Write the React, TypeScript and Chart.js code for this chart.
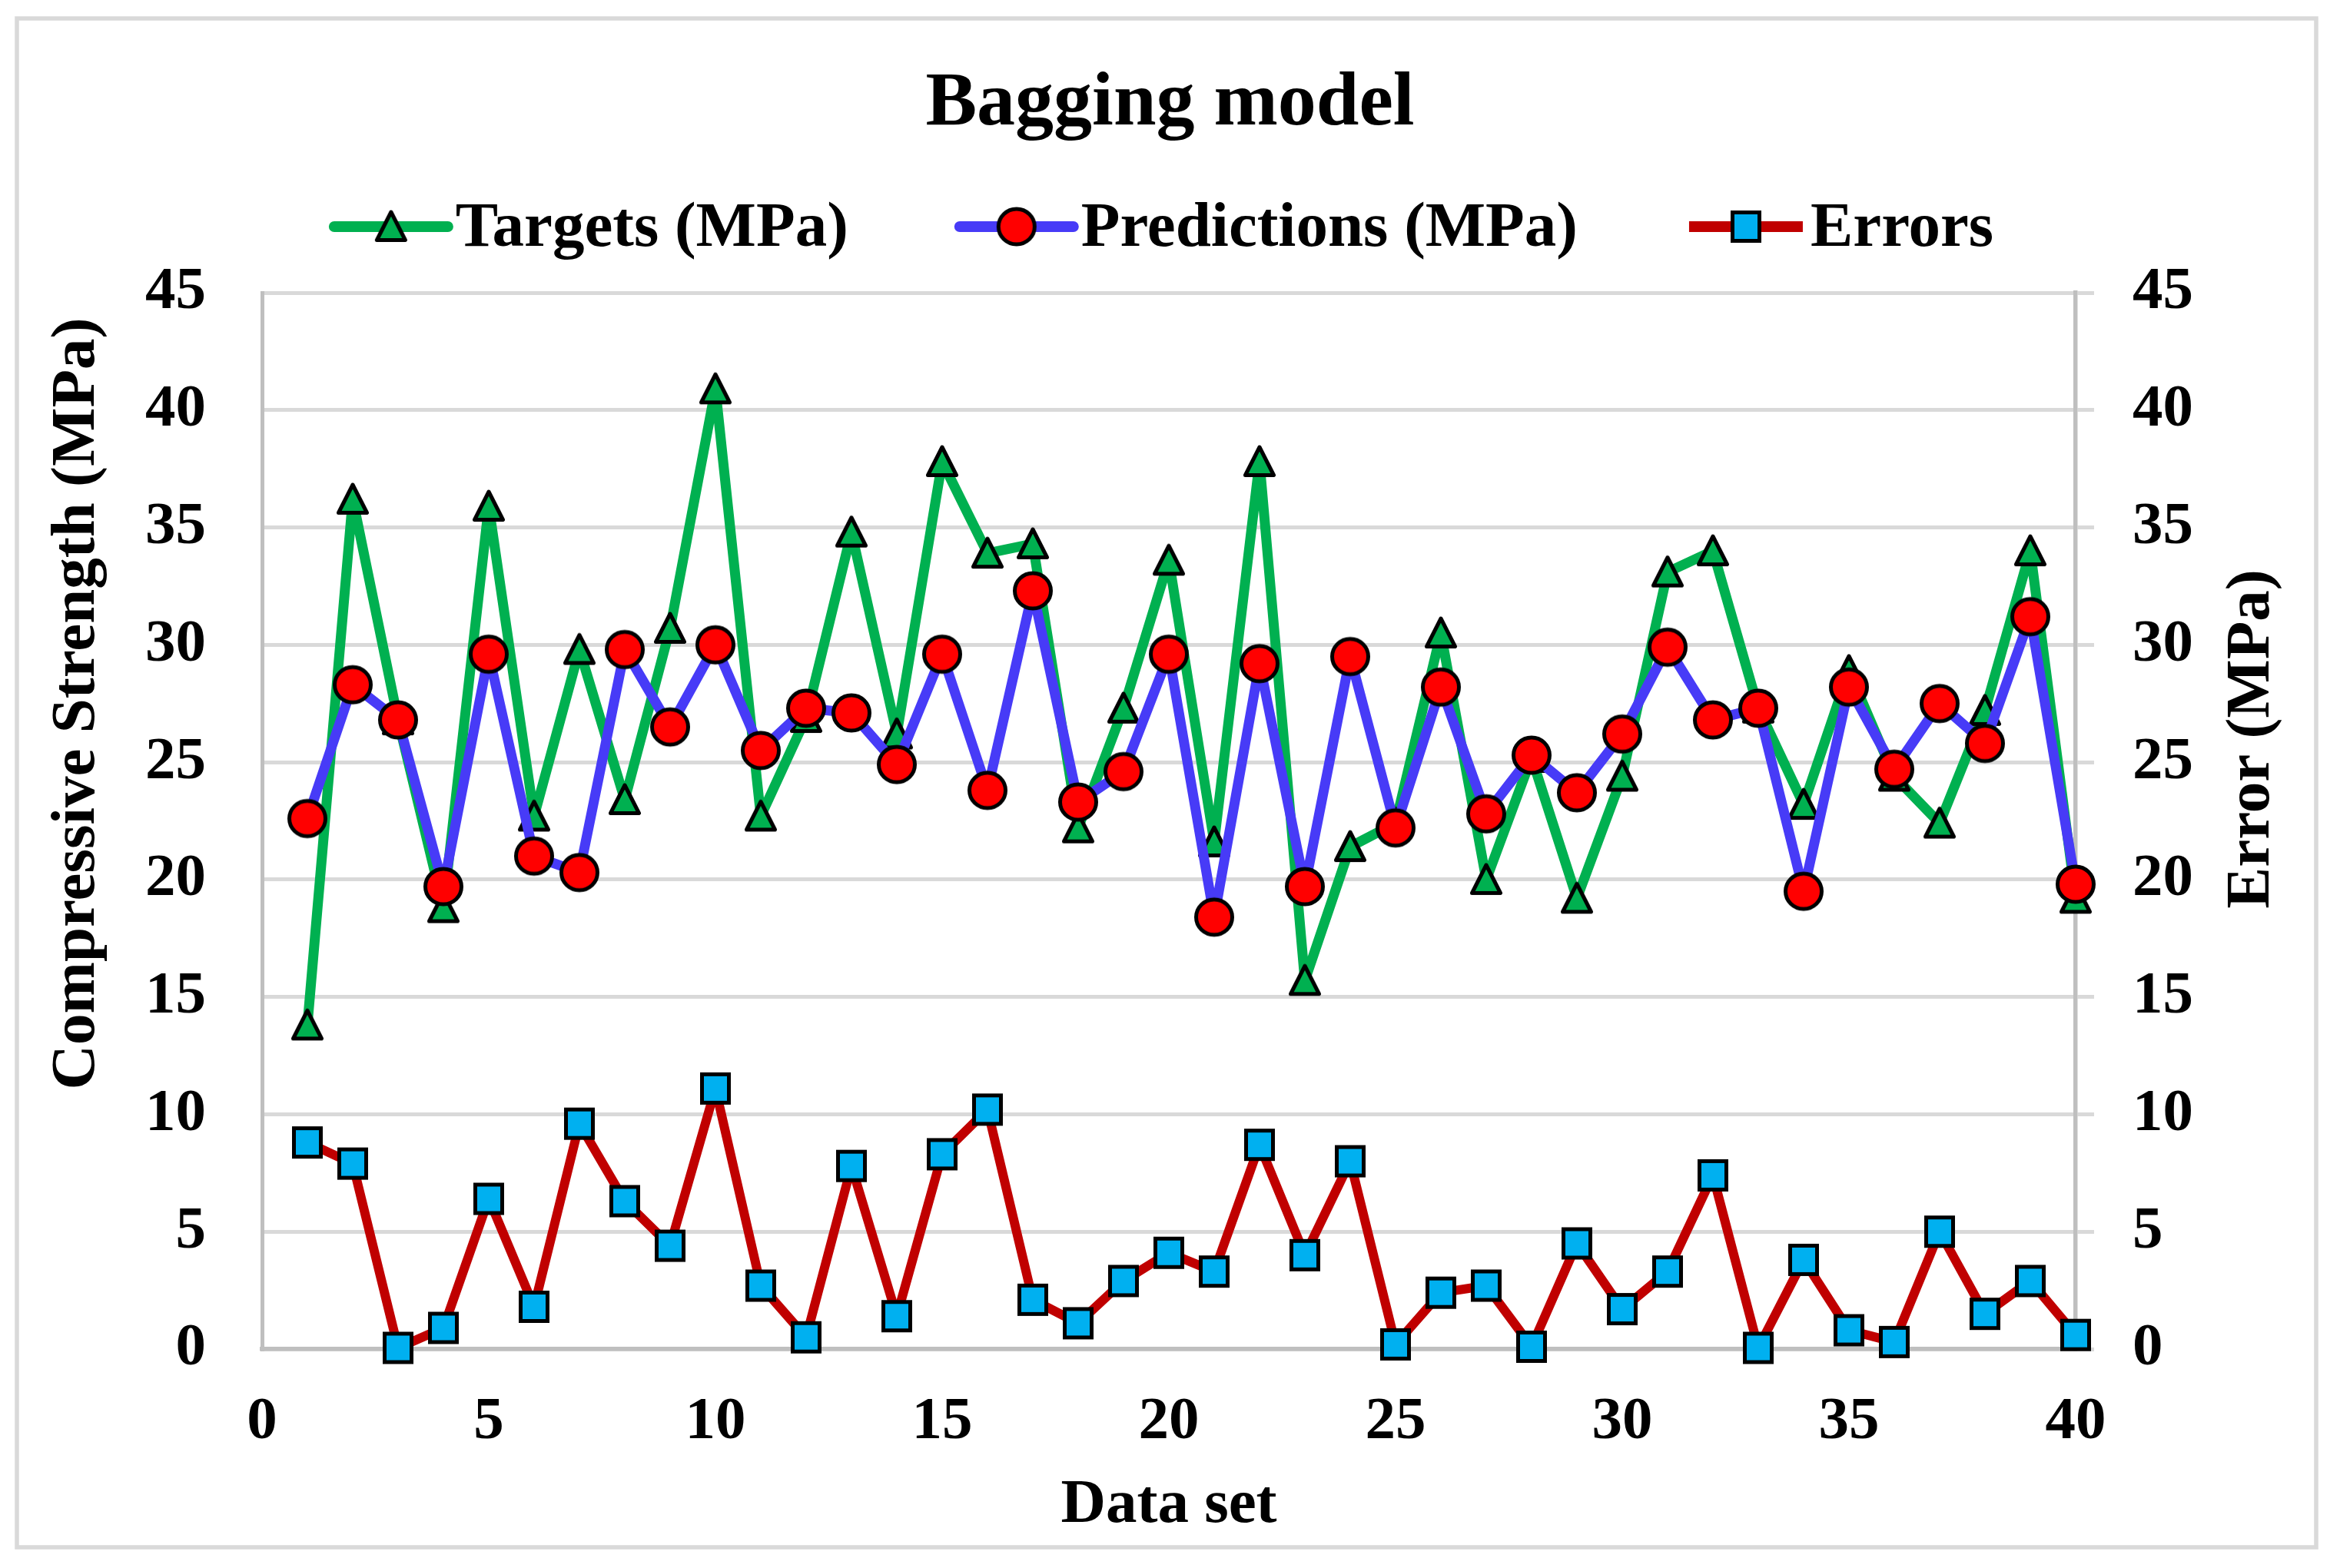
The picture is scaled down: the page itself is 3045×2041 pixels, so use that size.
import React, { useEffect, useRef } from 'react';
import { Chart, registerables } from 'chart.js';

Chart.register(...registerables);

// ---------------- data ----------------
const dataSet = [1, 2, 3, 4, 5, 6, 7, 8, 9, 10, 11, 12, 13, 14, 15, 16, 17, 18, 19, 20, 21, 22, 23, 24, 25, 26, 27, 28, 29, 30, 31, 32, 33, 34, 35, 36, 37, 38, 39, 40];
const targets = [13.8, 36.2, 26.8, 18.8, 35.9, 22.7, 29.8, 23.4, 30.7, 40.9, 22.7, 26.9, 34.8, 26.2, 37.8, 33.9, 34.3, 22.2, 27.3, 33.6, 21.6, 37.8, 15.7, 21.4, 22.4, 30.5, 20.0, 25.2, 19.2, 24.4, 33.1, 34.0, 27.3, 23.2, 28.9, 24.4, 22.4, 27.2, 34.0, 19.2];
const predictions = [22.6, 28.3, 26.8, 19.7, 29.6, 21.0, 20.3, 29.8, 26.5, 30.0, 25.5, 27.3, 27.1, 24.9, 29.6, 23.8, 32.3, 23.3, 24.6, 29.6, 18.4, 29.2, 19.7, 29.5, 22.2, 28.2, 22.8, 25.3, 23.7, 26.2, 29.9, 26.8, 27.3, 19.5, 28.2, 24.7, 27.5, 25.8, 31.2, 19.8];
const errors = [8.8, 7.9, 0.05, 0.9, 6.4, 1.8, 9.6, 6.3, 4.4, 11.1, 2.7, 0.5, 7.8, 1.4, 8.3, 10.2, 2.1, 1.1, 2.9, 4.1, 3.3, 8.7, 4.0, 8.0, 0.2, 2.4, 2.7, 0.1, 4.5, 1.7, 3.3, 7.4, 0.05, 3.8, 0.8, 0.3, 5.0, 1.5, 2.9, 0.6];
const seriesLabels = ['Targets (MPa)', 'Predictions (MPa)', 'Errors'];
const chartTitle = 'Bagging model';
const xTitle = 'Data set';
const yTitle = 'Compressive Strength (MPa)';
const y1Title = 'Error (MPa)';

// ---------------- styles ----------------
const FONT = "'Liberation Serif', 'Times New Roman', serif";
const GREEN = '#00B050';
const BLUE = '#473BF7';
const RED_LINE = '#C00000';
const RED_FILL = '#FF0000';
const CYAN = '#00B0F0';
const GRID = '#D9D9D9';
const AXIS = '#BFBFBF';

function makeCanvas(size: number) {
  const c = document.createElement('canvas');
  c.width = size;
  c.height = size;
  return c;
}

function triangleImage() {
  const c = makeCanvas(52);
  const ctx = c.getContext('2d')!;
  ctx.beginPath();
  ctx.moveTo(26, 7);
  ctx.lineTo(44.5, 43.5);
  ctx.lineTo(7.5, 43.5);
  ctx.closePath();
  ctx.fillStyle = GREEN;
  ctx.fill();
  ctx.lineWidth = 5;
  ctx.lineJoin = 'round';
  ctx.strokeStyle = '#000';
  ctx.stroke();
  return c;
}

function circleImage() {
  const c = makeCanvas(56);
  const ctx = c.getContext('2d')!;
  ctx.beginPath();
  ctx.ellipse(28, 28, 23.5, 23, 0, 0, Math.PI * 2);
  ctx.fillStyle = RED_FILL;
  ctx.fill();
  ctx.lineWidth = 5;
  ctx.strokeStyle = '#000';
  ctx.stroke();
  return c;
}

function squareImage() {
  const c = makeCanvas(46);
  const ctx = c.getContext('2d')!;
  ctx.beginPath();
  ctx.rect(5.5, 4.5, 35, 37);
  ctx.fillStyle = CYAN;
  ctx.fill();
  ctx.lineWidth = 5;
  ctx.strokeStyle = '#000';
  ctx.stroke();
  return c;
}

const decorPlugin = {
  id: 'excelDecor',
  beforeDraw(chart: any) {
    const ctx = chart.ctx as CanvasRenderingContext2D;
    ctx.save();
    ctx.strokeStyle = GRID;
    ctx.lineWidth = 5.5;
    ctx.strokeRect(22, 24, 2992, 1990);
    ctx.restore();
  },
  afterDraw(chart: any) {
    const ctx = chart.ctx as CanvasRenderingContext2D;
    // axis titles (rotated bottom-to-top, like Excel)
    ctx.save();
    ctx.fillStyle = '#000';
    ctx.font = `bold 81px ${FONT}`;
    ctx.textAlign = 'center';
    ctx.textBaseline = 'alphabetic';
    ctx.translate(122, 916);
    ctx.rotate(-Math.PI / 2);
    ctx.fillText(yTitle, 0, 0);
    ctx.restore();

    ctx.save();
    ctx.fillStyle = '#000';
    ctx.font = `bold 81px ${FONT}`;
    ctx.textAlign = 'center';
    ctx.textBaseline = 'alphabetic';
    ctx.translate(2952, 962);
    ctx.rotate(-Math.PI / 2);
    ctx.fillText(y1Title, 0, 0);
    ctx.restore();

    // legend
    const datasets = chart.data.datasets;
    ctx.save();
    ctx.font = `bold 83px ${FONT}`;
    const lineLen = 148;
    const gapLT = 10;
    const gapItems = 145;
    const widths = datasets.map((d: any) => ctx.measureText(d.label).width);
    const total = widths.reduce((a: number, b: number) => a + b, 0) + datasets.length * (lineLen + gapLT) + (datasets.length - 1) * gapItems;
    let x = 1514.5 - total / 2;
    const yLine = 295;
    datasets.forEach((d: any, i: number) => {
      ctx.beginPath();
      ctx.moveTo(x, yLine);
      ctx.lineTo(x + lineLen, yLine);
      ctx.strokeStyle = d.borderColor;
      ctx.lineWidth = 14;
      ctx.lineCap = i === 2 ? 'butt' : 'round';
      ctx.stroke();
      const img = d.pointStyle as HTMLCanvasElement;
      ctx.drawImage(img, x + lineLen / 2 - img.width / 2, yLine - img.height / 2);
      ctx.fillStyle = '#000';
      ctx.textAlign = 'left';
      ctx.textBaseline = 'alphabetic';
      ctx.fillText(d.label, x + lineLen + gapLT, 320);
      x += lineLen + gapLT + widths[i] + gapItems;
    });
    ctx.restore();
  },
};

export default function App() {
  const ref = useRef<HTMLCanvasElement>(null);

  useEffect(() => {
    document.body.style.margin = '0';
    document.body.style.overflow = 'hidden';
    const canvas = ref.current!;
    const tri = triangleImage();
    const circ = circleImage();
    const sq = squareImage();

    const chart = new Chart(canvas, {
      type: 'line',
      data: {
        datasets: [
          {
            label: seriesLabels[0],
            data: dataSet.map((x, i) => ({ x, y: targets[i] })),
            borderColor: GREEN,
            backgroundColor: GREEN,
            borderWidth: 13,
            borderJoinStyle: 'round',
            pointStyle: tri as any,
            pointRadius: 20,
            yAxisID: 'y',
            order: 3,
            clip: false as any,
            tension: 0,
          },
          {
            label: seriesLabels[1],
            data: dataSet.map((x, i) => ({ x, y: predictions[i] })),
            borderColor: BLUE,
            backgroundColor: RED_FILL,
            borderWidth: 13,
            borderJoinStyle: 'round',
            pointStyle: circ as any,
            pointRadius: 24,
            yAxisID: 'y',
            order: 2,
            clip: false as any,
            tension: 0,
          },
          {
            label: seriesLabels[2],
            data: dataSet.map((x, i) => ({ x, y: errors[i] })),
            borderColor: RED_LINE,
            backgroundColor: CYAN,
            borderWidth: 12,
            borderJoinStyle: 'round',
            pointStyle: sq as any,
            pointRadius: 20,
            yAxisID: 'y1',
            order: 1,
            clip: false as any,
            tension: 0,
          },
        ],
      },
      options: {
        responsive: false,
        devicePixelRatio: 1,
        animation: false,
        events: [],
        layout: { padding: 0 },
        plugins: {
          legend: { display: false },
          tooltip: { enabled: false },
          title: {
            display: true,
            text: chartTitle,
            color: '#000',
            font: { family: FONT, size: 100, weight: 'bold', lineHeight: 1.2 },
            padding: { top: 76, bottom: 185 },
          },
        },
        scales: {
          x: {
            type: 'linear',
            min: 0,
            max: 40,
            afterFit: (s: any) => { s.height = 285; },
            ticks: {
              stepSize: 5,
              color: '#000',
              padding: 48,
              font: { family: FONT, size: 79, weight: 'bold', lineHeight: 1.2 },
              maxRotation: 0,
              autoSkip: false,
            },
            grid: { display: false, drawTicks: false },
            border: { display: true, color: AXIS, width: 5.5 },
            title: {
              display: true,
              text: xTitle,
              color: '#000',
              font: { family: FONT, size: 81, weight: 'bold', lineHeight: 1.2 },
              padding: { top: 0, bottom: 32 },
            },
          },
          y: {
            type: 'linear',
            position: 'left',
            min: 0,
            max: 45,
            afterFit: (s: any) => { s.width = 341; },
            ticks: {
              stepSize: 5,
              color: '#000',
              padding: 73,
              font: { family: FONT, size: 79, weight: 'bold', lineHeight: 1.2 },
            },
            grid: { color: GRID, lineWidth: 5, drawTicks: false },
            border: { display: true, color: AXIS, width: 5 },
          },
          y1: {
            type: 'linear',
            position: 'right',
            min: 0,
            max: 45,
            afterFit: (s: any) => { s.width = 344; },
            ticks: {
              stepSize: 5,
              color: '#000',
              padding: 50,
              font: { family: FONT, size: 79, weight: 'bold', lineHeight: 1.2 },
            },
            grid: { drawOnChartArea: false, drawTicks: true, tickLength: 24, color: GRID, tickColor: GRID, lineWidth: 5 },
            border: { display: true, color: AXIS, width: 5.5 },
          },
        },
      } as any,
      plugins: [decorPlugin],
    });

    return () => chart.destroy();
  }, []);

  return (
    <div style={{ width: 3045, height: 2041 }}>
      <canvas ref={ref} width={3045} height={2041} style={{ display: 'block', width: 3045, height: 2041 }} />
    </div>
  );
}
